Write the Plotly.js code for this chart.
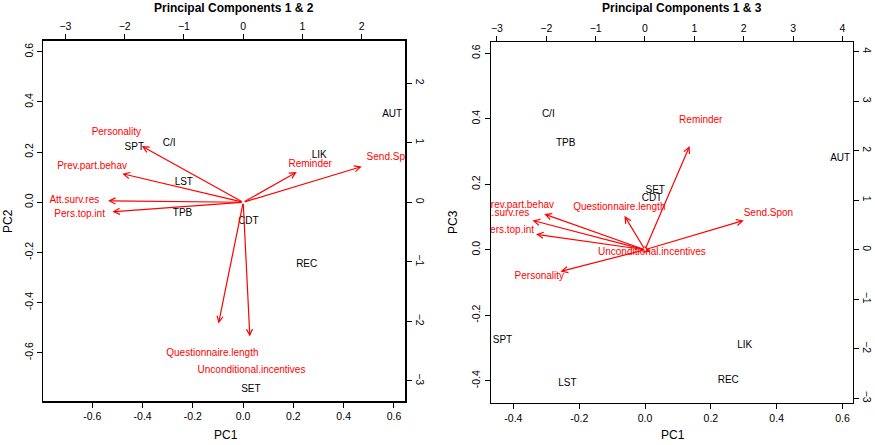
<!DOCTYPE html>
<html>
<head>
<meta charset="utf-8">
<script src="https://cdn.plot.ly/plotly-3.0.1.min.js"></script>
<style>
  html, body { margin: 0; padding: 0; background: #fff; }
  #chart { width: 875px; height: 445px; }
</style>
</head>
<body>
<div id="chart"></div>
<script>
// observation scores (bottom / left axes)
const obsNames = ["AUT", "C/I", "CDT", "LIK", "LST", "REC", "SET", "SPT", "TPB"];
const obsPC1 = [0.593, -0.294, 0.021, 0.303, -0.236, 0.253, 0.031, -0.433, -0.241];
const obsPC2 = [0.348, 0.235, -0.075, 0.188, 0.080, -0.247, -0.745, 0.219, -0.045];
const obsPC3 = [0.279, 0.414, 0.155, -0.292, -0.408, -0.399, 0.182, -0.278, 0.325];

// variable loadings (top / right axes), labels sit at these points
const varNames = ["Personality", "Prev.part.behav", "Att.surv.res", "Pers.top.int",
  "Reminder", "Send.Spon", "Questionnaire.length", "Unconditional.incentives"];
const varPC1 = [-2.14, -2.55, -2.85, -2.76, 1.13, 2.50, -0.52, 0.14];
const varPC2 = [1.18, 0.60, 0.03, -0.20, 0.635, 0.75, -2.545, -2.82];
const varPC3 = [-0.55, 0.90, 0.74, 0.39, 2.62, 0.74, 0.855, -0.05];

const ARROW_FRAC = 0.8; // arrows stop short of the labels, like biplot()

const W = 875, H = 445;
const FONT = "Liberation Sans, Arial, Helvetica, sans-serif";
const RED = "#FF0000";

const tickFont = { family: FONT, size: 10.5, color: "#000" };
const baseAxis = {
  showgrid: false, zeroline: false, showline: true, linecolor: "#000", linewidth: 1.5,
  ticks: "outside", ticklen: 5, tickwidth: 1, tickcolor: "#000",
  tickfont: tickFont, fixedrange: true
};

function textTrace(x, y, labels, color, xa, ya) {
  return {
    type: "scatter", mode: "text", x: x, y: y, text: labels,
    textposition: "middle center", cliponaxis: true, hoverinfo: "skip",
    textfont: { family: FONT, size: 10, color: color },
    xaxis: xa, yaxis: ya, showlegend: false
  };
}

function arrows(x, y, xa, ya) {
  return x.map((v, i) => ({
    xref: xa, yref: ya, axref: xa, ayref: ya,
    x: v * ARROW_FRAC, y: y[i] * ARROW_FRAC, ax: 0, ay: 0,
    text: "", showarrow: true, arrowhead: 5, arrowsize: 1,
    arrowwidth: 1.2, arrowcolor: RED, standoff: 0, startstandoff: 0
  }));
}

const dom1x = [43.3 / W, 405 / W], dom1y = [(H - 401) / H, (H - 40.7) / H];
const dom2x = [491 / W, 852.7 / W], dom2y = [(H - 402.7) / H, (H - 42.3) / H];

const series = [
  textTrace(obsPC1, obsPC2, obsNames, "#000", "x", "y"),
  textTrace(varPC1, varPC2, varNames, RED, "x2", "y2"),
  textTrace(obsPC1, obsPC3, obsNames, "#000", "x3", "y3"),
  textTrace(varPC1, varPC3, varNames, RED, "x4", "y4")
];

function label(text, x, y, opts) {
  return Object.assign({
    xref: "paper", yref: "paper", x: x / W, y: (H - y) / H,
    xanchor: "center", yanchor: "middle", showarrow: false, text: text,
    font: { family: FONT, size: 12, color: "#000" }
  }, opts || {});
}

let layout = {
  width: W, height: H, autosize: false,
  margin: { l: 0, r: 0, t: 0, b: 0, pad: 0 },
  paper_bgcolor: "#fff", plot_bgcolor: "#fff",
  font: { family: FONT, color: "#000" },
  showlegend: false,
  xaxis: Object.assign({}, baseAxis, { domain: dom1x, anchor: "y", range: [-0.795, 0.644],
    tickvals: [-0.6, -0.4, -0.2, 0, 0.2, 0.4, 0.6], ticktext: ["-0.6", "-0.4", "-0.2", "0.0", "0.2", "0.4", "0.6"] }),
  yaxis: Object.assign({}, baseAxis, { domain: dom1y, anchor: "x", range: [-0.792, 0.644], tickangle: -90,
    tickvals: [-0.6, -0.4, -0.2, 0, 0.2, 0.4, 0.6], ticktext: ["-0.6", "-0.4", "-0.2", "0.0", "0.2", "0.4", "0.6"] }),
  xaxis2: Object.assign({}, baseAxis, { overlaying: "x", side: "top", anchor: "y", range: [-3.373, 2.73],
    tickvals: [-3, -2, -1, 0, 1, 2] }),
  yaxis2: Object.assign({}, baseAxis, { overlaying: "y", side: "right", anchor: "x", range: [-3.34, 2.716],
    tickangle: 90, tickvals: [-3, -2, -1, 0, 1, 2] }),
  xaxis3: Object.assign({}, baseAxis, { domain: dom2x, anchor: "y3", range: [-0.468, 0.631],
    tickvals: [-0.4, -0.2, 0, 0.2, 0.4, 0.6], ticktext: ["-0.4", "-0.2", "0.0", "0.2", "0.4", "0.6"] }),
  yaxis3: Object.assign({}, baseAxis, { domain: dom2y, anchor: "x3", range: [-0.4672, 0.6333], tickangle: -90,
    tickvals: [-0.4, -0.2, 0, 0.2, 0.4, 0.6], ticktext: ["-0.4", "-0.2", "0.0", "0.2", "0.4", "0.6"] }),
  xaxis4: Object.assign({}, baseAxis, { overlaying: "x3", side: "top", anchor: "y3", range: [-3.119, 4.207],
    tickvals: [-3, -2, -1, 0, 1, 2, 3, 4] }),
  yaxis4: Object.assign({}, baseAxis, { overlaying: "y3", side: "right", anchor: "x3", range: [-3.09, 4.19],
    tickangle: 90, tickvals: [-3, -2, -1, 0, 1, 2, 3, 4] }),
  annotations: [
    ...arrows(varPC1, varPC2, "x2", "y2"),
    ...arrows(varPC1, varPC3, "x4", "y4"),
    label("<b>Principal Components 1 &amp; 2</b>", 234, 8),
    label("<b>Principal Components 1 &amp; 3</b>", 682, 8),
    label("PC1", 226, 435),
    label("PC1", 673, 435),
    label("PC2", 8, 221, { textangle: -90 }),
    label("PC3", 453, 222, { textangle: -90 })
  ]
};

let config = { responsive: false, displayModeBar: false, staticPlot: true };
Plotly.newPlot("chart", series, layout, config);
</script>
</body>
</html>
